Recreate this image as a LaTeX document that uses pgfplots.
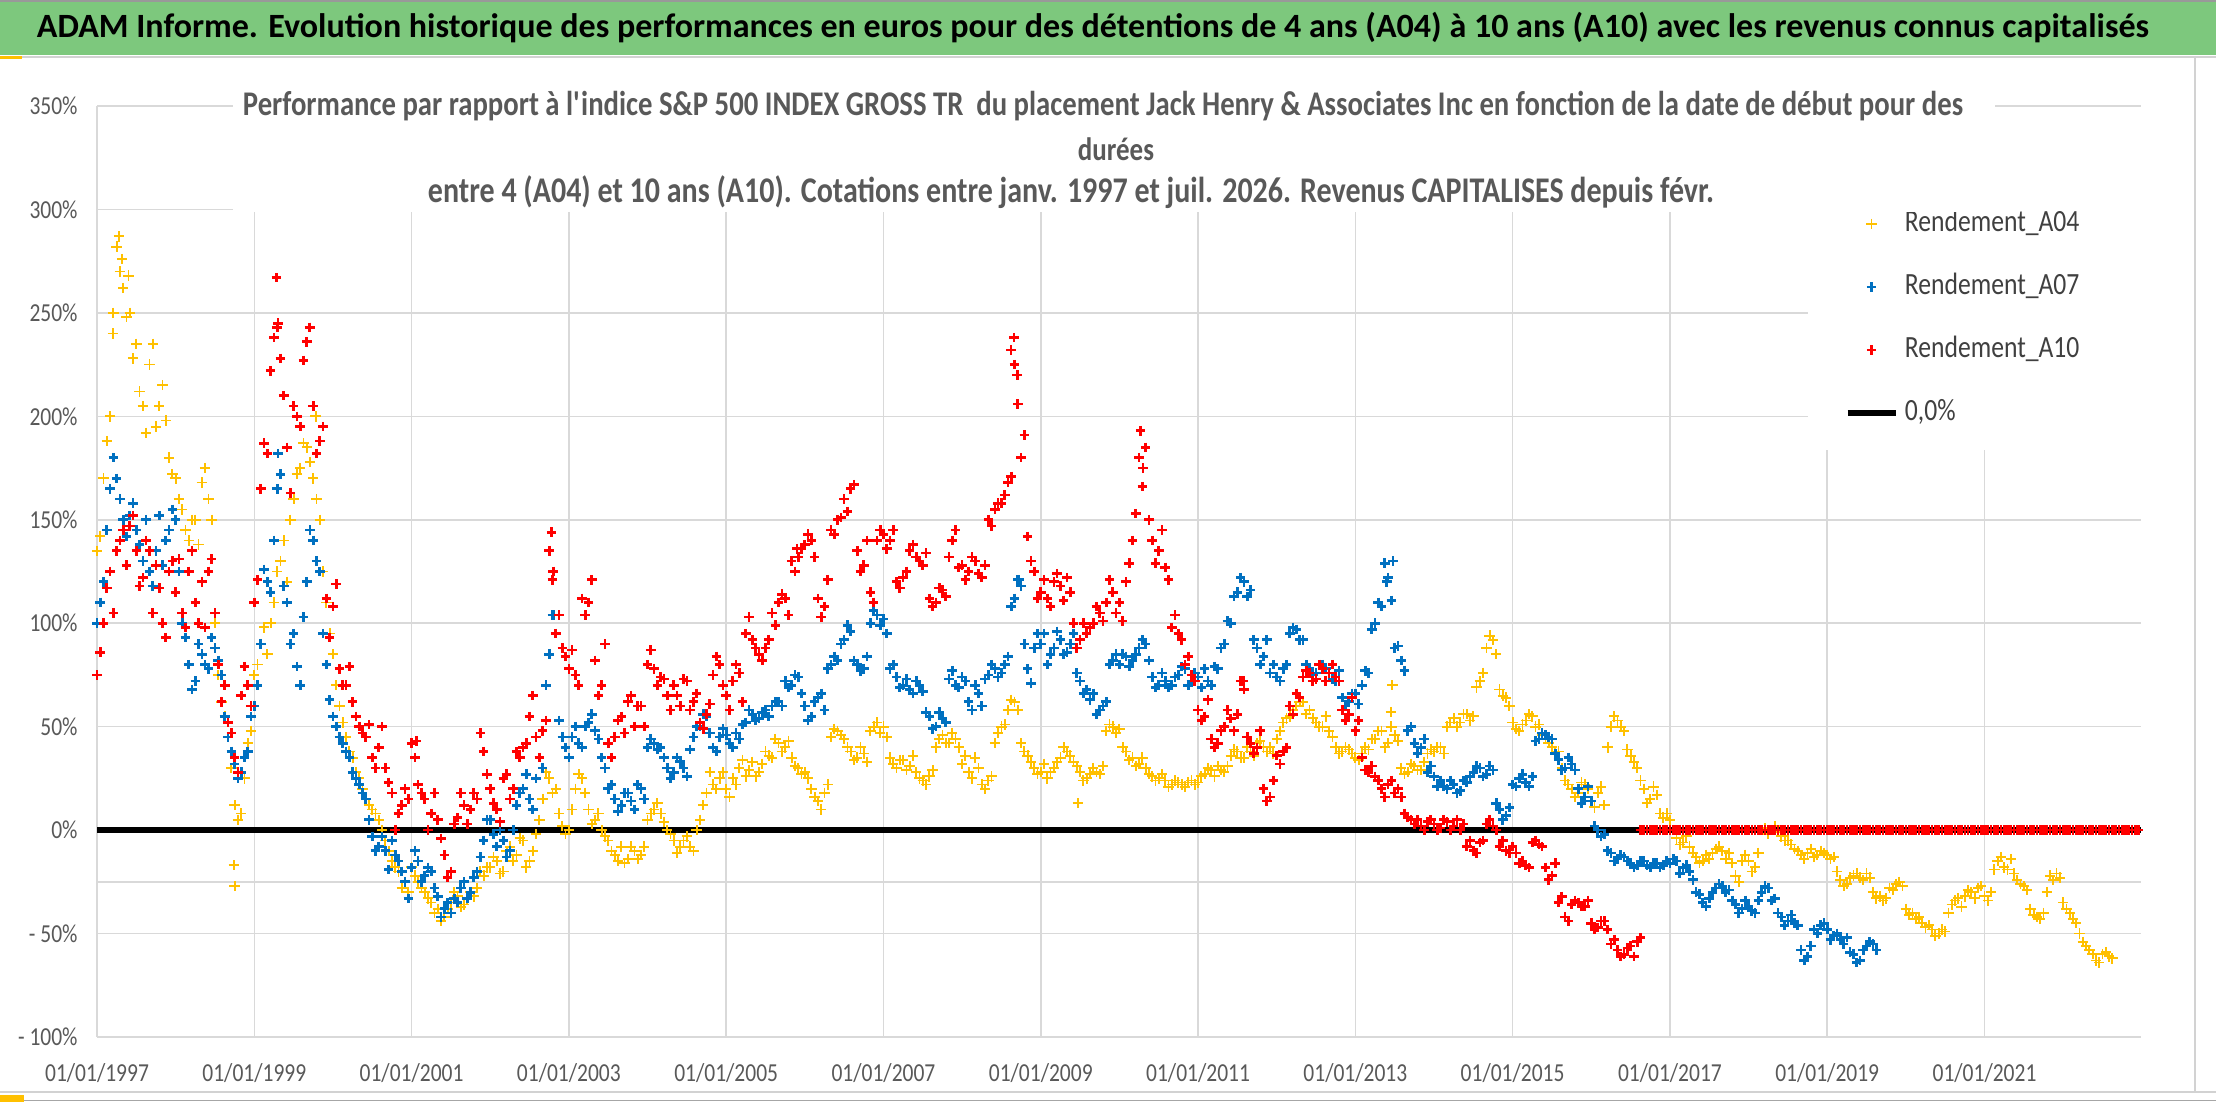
\documentclass[border=0pt]{standalone}
\usepackage{fontspec}
\setmainfont{Carlito}[FakeStretch=0.83]
\newfontfamily\bannerfont{Carlito}
\usepackage{pgfplots}
\usepackage{pgfplotstable}
\pgfplotsset{compat=1.18}
\definecolor{cA04}{RGB}{255,192,0}
\definecolor{cA07}{RGB}{0,112,192}
\definecolor{cA10}{RGB}{255,0,0}
\definecolor{banner}{RGB}{125,200,125}
\definecolor{lbl}{RGB}{89,89,89}
\definecolor{leg}{RGB}{64,64,64}
\definecolor{grd}{RGB}{217,217,217}

% Rendement_A04, start of each month from 01/1997
\pgfplotstableread[header=false,row sep=\\]{
135\\170\\200\\282\\262\\250\\235\\205\\225\\195\\215\\180\\
170\\155\\140\\150\\168\\160\\100\\62\\45\\12\\8\\42\\
75\\90\\85\\110\\130\\120\\160\\175\\185\\170\\150\\110\\
85\\60\\45\\35\\25\\15\\10\\5\\-5\\-15\\-20\\-25\\
-18\\-25\\-30\\-35\\-38\\-42\\-35\\-32\\-36\\-30\\-28\\-22\\
-18\\-15\\-20\\-8\\-12\\-5\\-15\\-2\\15\\25\\20\\2\\
0\\20\\25\\10\\5\\0\\-5\\-12\\-8\\-14\\-10\\-12\\
5\\10\\8\\0\\-5\\-8\\-3\\-10\\5\\18\\22\\25\\
20\\25\\30\\26\\33\\28\\38\\35\\42\\40\\35\\30\\
28\\20\\14\\18\\45\\48\\44\\38\\35\\37\\48\\52\\
50\\35\\30\\34\\31\\28\\24\\26\\40\\46\\42\\44\\
32\\28\\35\\22\\24\\42\\50\\58\\62\\42\\36\\30\\
28\\25\\30\\35\\38\\33\\28\\25\\30\\27\\48\\50\\
49\\38\\35\\32\\30\\26\\25\\24\\22\\23\\21\\24\\
23\\27\\29\\31\\28\\36\\38\\35\\38\\42\\40\\40\\
44\\52\\55\\60\\62\\58\\52\\50\\48\\40\\38\\39\\
35\\37\\39\\44\\48\\42\\46\\30\\28\\31\\29\\37\\
38\\40\\50\\54\\52\\56\\55\\72\\88\\92\\68\\64\\
52\\48\\53\\55\\51\\44\\40\\38\\24\\20\\18\\22\\
14\\18\\12\\50\\53\\48\\36\\30\\20\\15\\17\\6\\
5\\-4\\-6\\-8\\-13\\-15\\-14\\-9\\-10\\-11\\-22\\-15\\
-15\\-18\\0\\-2\\2\\-3\\-5\\-9\\-12\\-11\\-13\\-10\\
-12\\-13\\-24\\-26\\-22\\-23\\-21\\-30\\-32\\-33\\-29\\-25\\
-38\\-40\\-42\\-47\\-48\\-50\\-49\\-36\\-33\\-32\\-30\\-28\\
-32\\-30\\-15\\-18\\-14\\-24\\-27\\-38\\-42\\-40\\-22\\-21\\
-35\\-40\\-45\\-54\\-58\\-63\\-60\\-61\\
}\tAfour
% Rendement_A04, middle of each month
\pgfplotstableread[header=false,row sep=\\]{
142\\188\\250\\270\\248\\228\\212\\192\\235\\205\\198\\172\\
160\\145\\150\\138\\175\\150\\75\\55\\30\\5\\25\\48\\
80\\98\\100\\125\\140\\150\\172\\187\\178\\160\\125\\95\\
70\\52\\38\\28\\20\\12\\8\\0\\-10\\-18\\-28\\-30\\
-22\\-28\\-33\\-40\\-44\\-38\\-30\\-37\\-33\\-32\\-20\\-18\\
-13\\-21\\-10\\-15\\-4\\-18\\-10\\5\\28\\18\\8\\-2\\
10\\27\\18\\3\\8\\-3\\-10\\-15\\-16\\-8\\-14\\-8\\
8\\13\\4\\-2\\-11\\-5\\-8\\0\\12\\28\\20\\28\\
16\\22\\34\\29\\26\\32\\36\\44\\38\\43\\31\\27\\
25\\16\\10\\22\\49\\46\\40\\34\\40\\33\\50\\47\\
45\\32\\34\\29\\36\\25\\22\\29\\44\\42\\47\\40\\
36\\25\\30\\20\\26\\47\\51\\63\\58\\38\\33\\27\\
32\\28\\33\\40\\36\\31\\24\\27\\28\\31\\51\\47\\
40\\34\\31\\35\\27\\24\\27\\21\\24\\22\\23\\22\\
26\\30\\26\\29\\31\\39\\35\\40\\36\\43\\38\\37\\
48\\54\\58\\62\\56\\54\\50\\55\\45\\37\\40\\37\\
34\\40\\44\\48\\40\\50\\43\\27\\32\\29\\33\\39\\
40\\37\\52\\50\\56\\53\\69\\76\\94\\85\\65\\60\\
49\\51\\56\\50\\46\\42\\37\\30\\22\\16\\23\\20\\
11\\21\\40\\55\\50\\39\\33\\24\\13\\21\\8\\8\\
0\\-7\\-3\\-11\\-16\\-12\\-11\\-8\\-14\\-16\\-25\\-12\\
-20\\-11\\1\\0\\-1\\-5\\-7\\-10\\-14\\-9\\-12\\-11\\
-14\\-20\\-27\\-23\\-21\\-24\\-23\\-33\\-34\\-28\\-26\\-27\\
-41\\-43\\-45\\-46\\-51\\-48\\-40\\-34\\-37\\-29\\-33\\-27\\
-34\\-19\\-13\\-19\\-21\\-26\\-29\\-41\\-43\\-30\\-24\\-23\\
-38\\-43\\-50\\-56\\-60\\-64\\-59\\-62\\
}\tAfourB

% Rendement_A07
\pgfplotstableread[header=false,row sep=\\]{
100\\120\\165\\170\\150\\152\\145\\130\\125\\135\\128\\145\\
150\\100\\80\\72\\85\\78\\88\\75\\45\\32\\28\\38\\
60\\90\\120\\140\\172\\110\\95\\70\\120\\140\\125\\80\\
55\\45\\38\\28\\22\\15\\-3\\-8\\-10\\-5\\-15\\-25\\
-18\\-15\\-22\\-20\\-32\\-38\\-40\\-35\\-25\\-30\\-20\\-5\\
5\\-8\\-5\\-10\\12\\20\\15\\25\\30\\85\\95\\45\\
35\\50\\40\\52\\48\\35\\20\\15\\12\\18\\10\\20\\
40\\42\\40\\30\\28\\33\\26\\45\\50\\55\\40\\45\\
46\\40\\44\\52\\56\\54\\58\\60\\62\\72\\70\\74\\
60\\55\\64\\58\\80\\82\\92\\96\\80\\78\\100\\104\\
102\\78\\74\\70\\68\\72\\67\\55\\50\\54\\73\\70\\
74\\62\\70\\60\\75\\78\\76\\84\\112\\118\\78\\88\\
90\\80\\88\\92\\86\\95\\72\\68\\66\\58\\62\\82\\
80\\84\\82\\88\\90\\74\\70\\72\\70\\75\\78\\72\\
74\\78\\70\\78\\90\\100\\115\\120\\116\\88\\84\\76\\
74\\78\\95\\97\\92\\78\\76\\80\\76\\72\\64\\62\\
66\\70\\76\\100\\108\\122\\88\\82\\48\\42\\40\\28\\
26\\24\\20\\22\\19\\23\\28\\30\\27\\29\\10\\7\\
22\\25\\23\\26\\44\\46\\44\\34\\30\\32\\20\\16\\
14\\0\\-2\\-11\\-14\\-13\\-16\\-17\\-15\\-18\\-16\\-17\\
-16\\-15\\-18\\-20\\-30\\-35\\-33\\-28\\-27\\-29\\-36\\-38\\
-37\\-40\\-30\\-28\\-33\\-42\\-44\\-45\\-58\\-61\\-48\\-46\\
-48\\-51\\-53\\-52\\-60\\-63\\-56\\-55\\
}\tAseven
\pgfplotstableread[header=false,row sep=\\]{
110\\145\\180\\160\\142\\158\\138\\150\\118\\152\\140\\155\\
125\\93\\68\\90\\80\\93\\82\\55\\38\\25\\35\\55\\
70\\126\\115\\165\\118\\90\\79\\103\\145\\130\\95\\63\\
50\\42\\35\\25\\18\\5\\-10\\-3\\-19\\-12\\-20\\-33\\
-10\\-25\\-18\\-28\\-42\\-35\\-33\\-28\\-33\\-23\\-13\\5\\
-2\\0\\-13\\0\\18\\27\\10\\35\\70\\104\\53\\40\\
45\\42\\50\\56\\44\\30\\22\\9\\18\\14\\22\\15\\
44\\39\\35\\25\\35\\30\\39\\50\\56\\47\\38\\49\\
42\\47\\51\\58\\53\\57\\55\\62\\60\\69\\75\\66\\
53\\62\\66\\78\\84\\90\\99\\82\\77\\84\\106\\99\\
95\\80\\69\\73\\66\\70\\57\\49\\57\\52\\77\\69\\
72\\58\\66\\73\\80\\74\\80\\108\\121\\90\\71\\95\\
95\\85\\96\\85\\90\\76\\66\\63\\56\\60\\80\\85\\
85\\79\\85\\92\\82\\69\\76\\69\\74\\79\\70\\76\\
69\\72\\79\\88\\101\\113\\122\\113\\92\\80\\92\\80\\
72\\80\\98\\92\\80\\75\\80\\78\\73\\77\\60\\66\\
61\\77\\97\\110\\129\\111\\89\\77\\50\\37\\44\\31\\
21\\21\\24\\18\\24\\26\\31\\26\\31\\13\\5\\11\\
21\\27\\21\\43\\47\\45\\37\\29\\35\\29\\13\\21\\
2\\-3\\-10\\-15\\-12\\-15\\-18\\-15\\-17\\-16\\-18\\-15\\
-14\\-21\\-17\\-24\\-31\\-37\\-30\\-26\\-30\\-34\\-40\\-34\\
-39\\-34\\-27\\-34\\-40\\-46\\-41\\-46\\-63\\-56\\-50\\-45\\
-53\\-50\\-55\\-59\\-64\\-58\\-54\\-58\\
}\tAsevenB

% Rendement_A10
\pgfplotstableread[header=false,row sep=\\]{
75\\100\\125\\135\\145\\147\\135\\122\\135\\128\\100\\125\\
115\\105\\125\\110\\120\\125\\105\\62\\52\\35\\65\\70\\
110\\165\\182\\238\\228\\185\\205\\195\\236\\205\\188\\112\\
108\\78\\70\\62\\50\\45\\35\\40\\30\\18\\8\\20\\
42\\22\\15\\8\\5\\-12\\-20\\6\\12\\10\\15\\38\\
20\\10\\25\\15\\38\\40\\55\\45\\48\\135\\95\\88\\
78\\75\\112\\110\\82\\70\\42\\45\\55\\62\\50\\60\\
80\\78\\74\\65\\70\\60\\72\\62\\52\\56\\75\\80\\
65\\72\\76\\95\\92\\85\\88\\105\\110\\112\\130\\132\\
138\\140\\112\\108\\145\\150\\160\\165\\135\\128\\115\\140\\
143\\140\\120\\122\\135\\132\\128\\112\\110\\116\\132\\145\\
128\\125\\130\\122\\150\\155\\158\\168\\225\\180\\142\\125\\
115\\112\\120\\118\\122\\100\\92\\95\\100\\105\\110\\115\\
110\\120\\140\\180\\185\\140\\135\\127\\98\\95\\80\\75\\
58\\55\\44\\42\\50\\54\\56\\68\\42\\40\\20\\16\\
36\\38\\60\\66\\74\\76\\73\\78\\76\\74\\58\\56\\
48\\35\\28\\26\\20\\22\\18\\16\\6\\3\\2\\4\\
3\\1\\4\\2\\0\\-8\\-10\\-6\\3\\2\\-8\\-10\\
-8\\-16\\-17\\-6\\-7\\-18\\-22\\-35\\-42\\-36\\-35\\-37\\
-45\\-47\\-44\\-55\\-58\\-60\\-56\\-54\\
}\tAten
\pgfplotstableread[header=false,row sep=\\]{
86\\117\\105\\140\\128\\152\\118\\140\\105\\117\\93\\130\\
131\\98\\135\\100\\98\\131\\80\\70\\47\\28\\79\\60\\
121\\187\\222\\243\\210\\163\\200\\227\\243\\182\\195\\93\\
119\\70\\79\\55\\47\\51\\30\\50\\23\\0\\12\\15\\
35\\18\\0\\18\\-4\\-23\\3\\18\\3\\18\\47\\27\\
13\\4\\27\\20\\35\\42\\65\\35\\53\\121\\104\\84\\
87\\70\\104\\121\\65\\90\\35\\53\\47\\65\\60\\50\\
87\\70\\73\\58\\65\\73\\58\\66\\49\\61\\84\\70\\
58\\80\\62\\103\\88\\82\\92\\99\\114\\104\\125\\136\\
143\\132\\103\\121\\143\\151\\154\\167\\125\\140\\110\\145\\
136\\145\\117\\125\\138\\130\\134\\108\\117\\113\\140\\127\\
121\\132\\124\\128\\147\\158\\162\\171\\206\\191\\130\\112\\
121\\108\\124\\111\\115\\88\\100\\98\\108\\101\\121\\105\\
101\\129\\153\\166\\150\\129\\145\\121\\104\\92\\84\\72\\
53\\63\\40\\48\\58\\48\\72\\45\\37\\48\\14\\24\\
32\\40\\56\\64\\77\\72\\80\\72\\80\\72\\53\\64\\
53\\29\\31\\24\\16\\24\\20\\8\\5\\5\\0\\5\\
0\\5\\0\\5\\3\\-5\\-11\\-5\\5\\0\\-5\\-11\\
-11\\-15\\-18\\-5\\-8\\-24\\-16\\-32\\-44\\-34\\-37\\-34\\
-48\\-44\\-48\\-53\\-61\\-57\\-61\\-52\\
}\tAtenB

\pgfplotstableread[header=false,row sep=\\]{
0\\0\\0\\0\\0\\0\\0\\0\\0\\0\\0\\0\\0\\0\\0\\0\\0\\0\\0\\0\\0\\0\\0\\0\\
0\\0\\0\\0\\0\\0\\0\\0\\0\\0\\0\\0\\0\\0\\0\\0\\0\\0\\0\\0\\0\\0\\0\\0\\
0\\0\\0\\0\\0\\0\\0\\0\\0\\0\\0\\0\\0\\0\\0\\0\\0\\0\\0\\0\\0\\0\\0\\0\\
0\\0\\0\\0\\0\\0\\0\\0\\0\\0\\0\\0\\0\\0\\0\\0\\0\\0\\0\\0\\0\\0\\0\\0\\
0\\0\\0\\0\\0\\0\\0\\0\\0\\0\\0\\0\\0\\0\\0\\0\\0\\0\\0\\0\\0\\0\\0\\0\\
0\\0\\0\\0\\0\\0\\0\\0\\0\\0\\0\\0\\0\\0\\0\\0\\0\\0\\0\\0\\0\\0\\0\\0\\
0\\0\\0\\0\\0\\0\\0\\0\\0\\
}\tAtenzero

\begin{document}
\begin{tikzpicture}[x=1bp,y=1bp]
\path[use as bounding box] (0,0) rectangle (1108,551);
\fill[white] (0,0) rectangle (1108,551);
% banner
\fill[banner] (0,523.5) rectangle (1108,551);
\draw[gray!80, line width=0.8bp] (0,550.6) -- (1108,550.6);
\draw[gray!35, line width=1.2bp] (0,522.6) -- (1108,522.6);
\fill[cA04] (0,521.5) rectangle (11,523);
\node[inner sep=0pt] at (546.5,537.3) {\resizebox{1056bp}{!}{\bannerfont\bfseries\fontsize{17}{20}\selectfont ADAM Informe. Evolution historique des performances en euros pour des détentions de 4 ans (A04) à 10 ans (A10) avec les revenus connus capitalisés}};
% frame
\draw[gray!35, line width=0.8bp] (1097.5,522) -- (1097.5,5);
\draw[gray!35, line width=0.8bp] (0,5) -- (1108,5);
\draw[gray!70, line width=0.8bp] (0,0.8) -- (1108,0.8);
\fill[cA04] (0,0) rectangle (12,3.5);

\begin{axis}[
  at={(48.5bp,32.5bp)}, anchor=south west,
  scale only axis, width=1022bp, height=465.5bp,
  xmin=1997, xmax=2022.99, ymin=-100, ymax=350,
  axis line style={draw=none},
  major tick length=0pt,
  xtick={1997,1999,...,2021},
  xticklabels={01/01/1997,01/01/1999,01/01/2001,01/01/2003,01/01/2005,01/01/2007,01/01/2009,01/01/2011,01/01/2013,01/01/2015,01/01/2017,01/01/2019,01/01/2021},
  ytick={-100,-50,...,350},
  yticklabels={- 100\%,- 50\%,0\%,50\%,100\%,150\%,200\%,250\%,300\%,350\%},
  extra y ticks={-25}, extra y tick labels={},
  extra y tick style={grid=major},
  grid=major,
  major grid style={draw=grd, line width=0.75bp},
  tick label style={font=\fontsize{13}{15}\selectfont, text=lbl},
  xticklabel style={anchor=north, inner sep=0pt, yshift=-13bp},
  yticklabel style={anchor=east, inner sep=0pt, xshift=-9.5bp},
  legend style={at={(0.837,0.9076)}, anchor=north west, fill=none, draw=none,
    font=\fontsize{15.5}{18}\selectfont, text=leg,
    inner xsep=18bp, inner ysep=9bp, row sep=18bp, column sep=3bp,
    nodes={inner sep=0pt, text height=10.5bp, text depth=3bp}},
  legend cell align=left,
  legend image code/.code={\draw[mark repeat=2,mark phase=2,#1] plot coordinates {(0bp,0bp) (12bp,0bp) (24bp,0bp)};},
  clip=true,
  yellowpt/.style={only marks, mark=+, mark size=2.6bp, line width=0.9bp, color=cA04},
  bluept/.style={only marks, mark=+, mark size=2.4bp, line width=1.35bp, color=cA07},
  redpt/.style={only marks, mark=+, mark size=2.4bp, line width=1.35bp, color=cA10},
]
\fill[white] (rel axis cs:0.837,0.6305) rectangle (rel axis cs:1.01,0.9076);
\addplot[black, line width=3bp, forget plot] coordinates {(1997,0) (2022.99,0)};
% A04
\addplot[yellowpt, forget plot] table[x expr=1997+1/24+\coordindex/12, y index=0] {\tAfourB};
\addplot[yellowpt, forget plot] coordinates {
(1997.28,287) (1997.32,276) (1997.4,268) (1997.2,240) (1998.74,-17) (1998.75,-27) (1999.78,200) (2009.47,13) (2013.47,70) (2013.45,57)};
\addplot[yellowpt] table[x expr=1997+\coordindex/12, y index=0] {\tAfour};
\addlegendentry{Rendement\_A04}
% A07
\addplot[bluept, forget plot] table[x expr=1997+1/24+\coordindex/12, y index=0] {\tAsevenB};
\addplot[bluept, forget plot] coordinates {
(2013.48,130) (2013.4,120) (1999.3,182) (2002.8,104) (2008.72,121)};
\addplot[bluept] table[x expr=1997+\coordindex/12, y index=0] {\tAseven};
\addlegendentry{Rendement\_A07}
% A10
\addplot[redpt, forget plot] table[x expr=1997+1/24+\coordindex/12, y index=0] {\tAtenB};
\addplot[redpt, forget plot] coordinates {
(1999.28,267) (1999.3,245) (2008.62,232) (2008.66,238) (2008.7,220) (2010.27,193) (2010.3,175) (2002.78,144) (2002.8,125) (2011.58,72) (1999.7,243) (2001.06,43) (2005.9,136)};
\addplot[redpt, forget plot] table[x expr=2016.625+\coordindex/24, y index=0] {\tAtenzero};
\addplot[redpt] table[x expr=1997+\coordindex/12, y index=0] {\tAten};
\addlegendentry{Rendement\_A10}
\addlegendimage{black, line width=3.3bp}
\addlegendentry{0,0\%}
\end{axis}

% subtitle box
\fill[white] (116.5,445) rectangle (997.5,512);
\node[inner sep=0pt, text=lbl] at (551.5,498) {\resizebox{860bp}{!}{\bfseries\fontsize{16.3}{19}\selectfont Performance par rapport à l\textquotesingle indice S\&P 500 INDEX GROSS TR\ \ du placement Jack Henry \& Associates Inc en fonction de la date de début pour des}};
\node[inner sep=0pt, text=lbl] at (558,476.5) {\bfseries\fontsize{16.3}{19}\selectfont durées};
\node[inner sep=0pt, text=lbl] at (535.5,455) {\resizebox{643bp}{!}{\bfseries\fontsize{16.3}{19}\selectfont entre 4 (A04) et 10 ans (A10). Cotations entre janv. 1997 et juil. 2026. Revenus CAPITALISES depuis févr.}};
\end{tikzpicture}
\end{document}
